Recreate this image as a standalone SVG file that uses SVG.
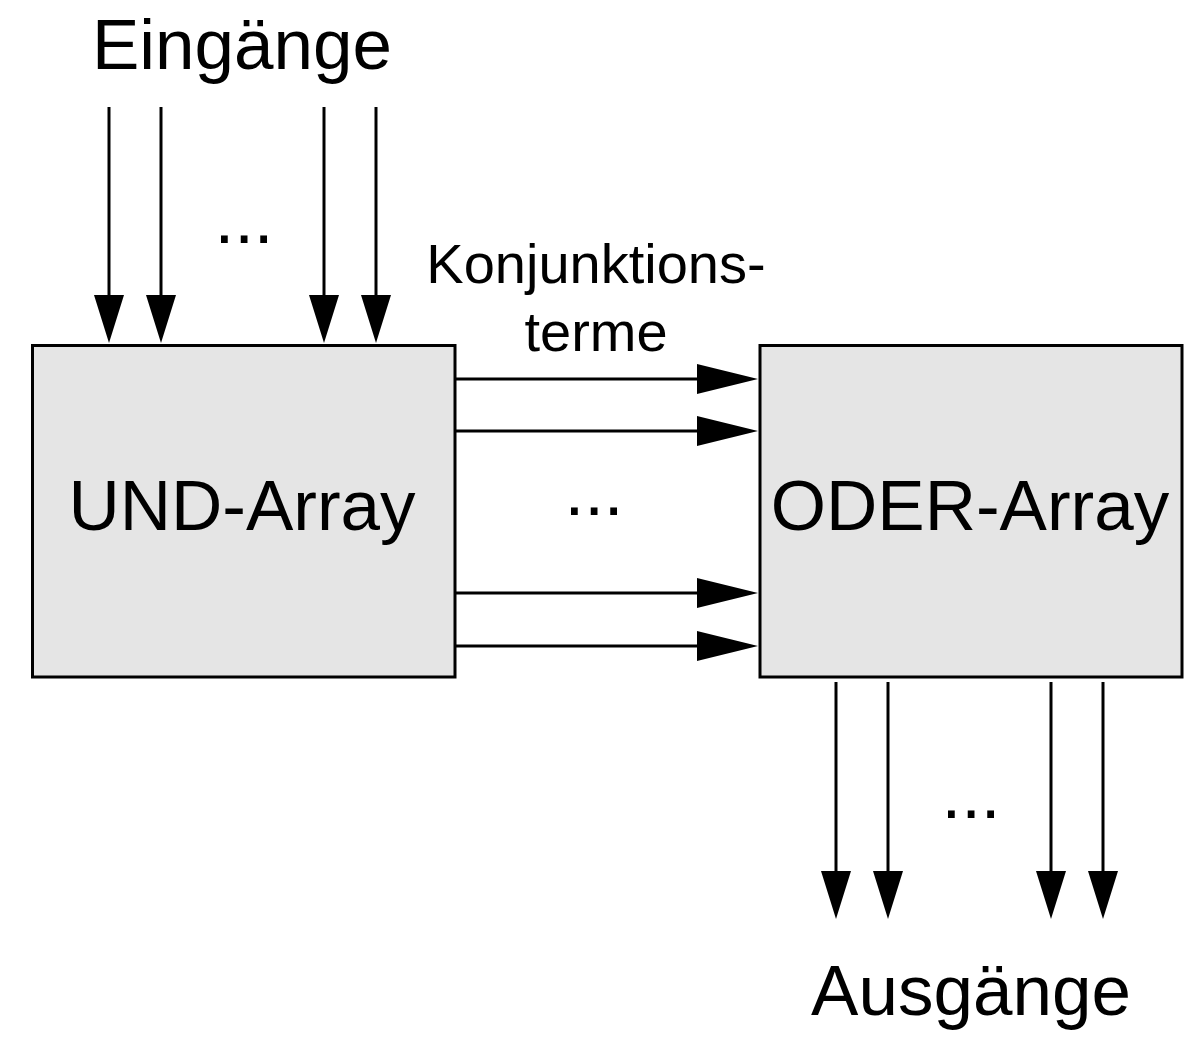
<svg xmlns="http://www.w3.org/2000/svg" width="1200" height="1048" viewBox="0 0 1200 1048">
<style>
text{font-family:"Liberation Sans",Arial,sans-serif;fill:#000;text-anchor:middle}
.big{font-size:71px}
.mid{font-size:56px}
.box{fill:#e5e5e5;stroke:#000;stroke-width:3}
.c{stroke:#000;stroke-width:3;fill:none}
.v{marker-end:url(#ahV)}
.h{marker-end:url(#ahH)}
</style>
<defs>
<marker id="ahV" markerUnits="userSpaceOnUse" viewBox="0 -15 48 30" markerWidth="48" markerHeight="30" refX="0" refY="0" orient="auto" overflow="visible">
<path d="M0,-15 L48,0 L0,15 Z" fill="#000"/>
</marker>
<marker id="ahH" markerUnits="userSpaceOnUse" viewBox="0 -15 61 30" markerWidth="61" markerHeight="30" refX="0" refY="0" orient="auto" overflow="visible">
<path d="M0,-15 L61,0 L0,15 Z" fill="#000"/>
</marker>
</defs>
<rect width="1200" height="1048" fill="#fff"/>
<g id="und-array">
<rect class="box" x="32.5" y="345.5" width="422.5" height="331.5"/>
<text class="big" x="242" y="530">UND-Array</text>
</g>
<g id="oder-array">
<rect class="box" x="760" y="345.5" width="422" height="331.5"/>
<text class="big" x="970" y="530">ODER-Array</text>
</g>
<g id="eingaenge">
<text class="big" x="242" y="69">Eingänge</text>
<text class="big" x="244" y="243">...</text>
</g>
<g id="ausgaenge">
<text class="big" x="971" y="1015">Ausgänge</text>
<text class="big" x="971" y="818">...</text>
</g>
<g id="konjunktionsterme">
<text class="mid" x="596" y="283">Konjunktions-</text>
<text class="mid" x="596" y="351">terme</text>
<text class="big" x="594" y="515">...</text>
</g>
<g id="connectors">
<line class="c v" x1="109" y1="107" x2="109" y2="295"/>
<line class="c v" x1="161" y1="107" x2="161" y2="295"/>
<line class="c v" x1="324" y1="107" x2="324" y2="295"/>
<line class="c v" x1="376" y1="107" x2="376" y2="295"/>
<line class="c h" x1="455" y1="379" x2="697" y2="379"/>
<line class="c h" x1="455" y1="431" x2="697" y2="431"/>
<line class="c h" x1="455" y1="593" x2="697" y2="593"/>
<line class="c h" x1="455" y1="646" x2="697" y2="646"/>
<line class="c v" x1="836" y1="682" x2="836" y2="871"/>
<line class="c v" x1="888" y1="682" x2="888" y2="871"/>
<line class="c v" x1="1051" y1="682" x2="1051" y2="871"/>
<line class="c v" x1="1103" y1="682" x2="1103" y2="871"/>
</g>
</svg>
